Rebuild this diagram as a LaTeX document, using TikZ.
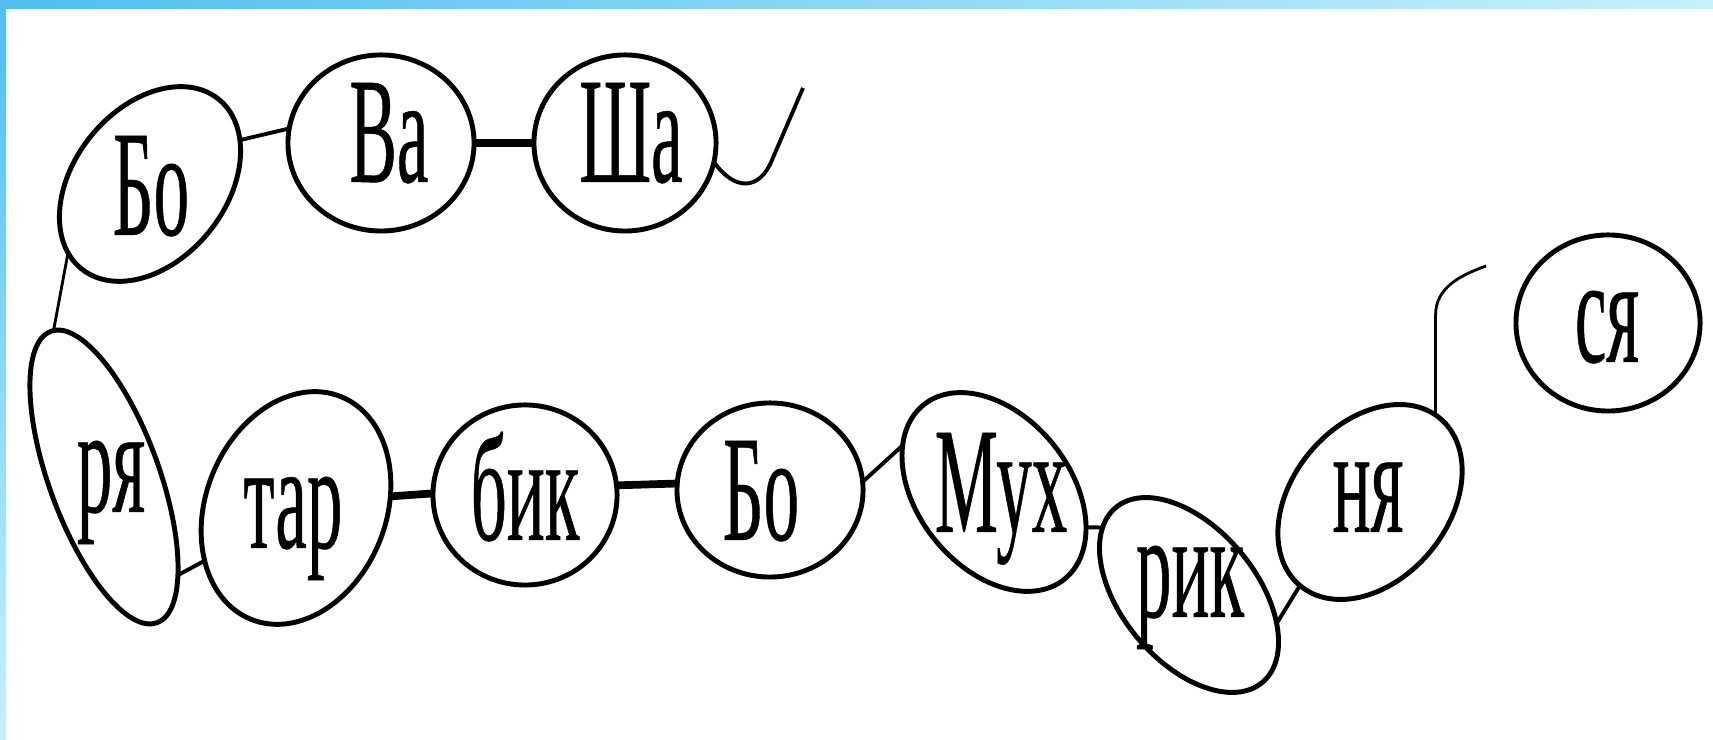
\documentclass[tikz,border=0pt]{standalone}
\usepackage{fontspec}
\setmainfont{Liberation Serif}[FakeStretch=0.47,FakeBold=0.3]
\usetikzlibrary{shapes.geometric}

\definecolor{frameblue}{RGB}{80,190,238}
\definecolor{framelight}{RGB}{200,240,252}

\begin{document}
\begin{tikzpicture}[x=0.01cm,y=0.01cm,
	oval/.style={draw,ellipse,line width=1.4pt,inner sep=0pt,outer sep=0pt},
	syl/.style={anchor=base,inner sep=0pt,font=\fontsize{43}{43}\selectfont},
	link/.style={line width=1.1pt},
	thinlink/.style={line width=0.8pt},
	thicklink/.style={line width=2.2pt}]

	\useasboundingbox (0,0) rectangle (1713,740);
	\fill [left color=frameblue,right color=framelight] (0,731) rectangle (1713,740);
	\fill [top color=frameblue,bottom color=framelight] (0,0) rectangle (6,740);

	\node [oval,minimum width=2.18cm,minimum height=1.52cm,rotate=51] (bo1) at (150,556) {};
	\node [oval,minimum width=1.86cm,minimum height=1.76cm] (va) at (381,597) {};
	\node [oval,minimum width=1.82cm,minimum height=1.76cm] (sha) at (625,597) {};
	\node [oval,minimum width=3.10cm,minimum height=1.10cm,rotate=-70] (rya) at (104,263) {};
	\node [oval,minimum width=2.40cm,minimum height=1.80cm,rotate=68] (tar) at (296,232) {};
	\node [oval,minimum width=1.84cm,minimum height=1.80cm] (bik) at (525,245) {};
	\node [oval,minimum width=1.86cm,minimum height=1.74cm] (bo2) at (770,250) {};
	\node [oval,minimum width=2.24cm,minimum height=1.52cm,rotate=-51] (muh) at (994,248) {};
	\node [oval,minimum width=2.28cm,minimum height=1.34cm,rotate=-50] (rik) at (1189,145) {};
	\node [oval,minimum width=2.18cm,minimum height=1.56cm,rotate=50] (nya) at (1370,238) {};
	\node [oval,minimum width=1.84cm,minimum height=1.76cm] (sya) at (1608,417) {};

	\node [syl] (bo1t) at (151,505) {Бо};
	\node [syl] (vat) at (389,558) {Ва};
	\node [syl] (shat) at (631,558) {Ша};
	\node [syl] (ryat) at (111,228) {ря};
	\node [syl] (tart) at (293,192) {тар};
	\node [syl] (bikt) at (525,200) {бик};
	\node [syl] (bo2t) at (761,200) {Бо};
	\node [syl] (muht) at (1001,208) {Мух};
	\node [syl] (rikt) at (1190,123) {рик};
	\node [syl] (nyat) at (1368,208) {ня};
	\node [syl] (syat) at (1607,378) {ся};

	\coordinate (hookend) at (803,652);
	\coordinate (syhook) at (1486,474);

	\draw [link] (bo1.-25) -- (va.171);
	\draw [thicklink] (va.east) -- (sha.west);
	\draw [link] (sha.-12) .. controls (735,548) and (760,550) .. (772,580) -- (hookend);
	\draw [thinlink] (bo1.169) -- (rya.179);
	\draw [link] (rya.17) -- (tar.142);
	\draw [thicklink] (tar.-61) -- (bik.179);
	\draw [thicklink] (bik.6) -- (bo2.176);
	\draw [link] (bo2.5) -- (muh.204);
	\draw [link] (muh.30) -- (rik.192);
	\draw [link] (rik.32) -- (nya.180);
	\draw [thinlink] (nya.3) -- ++(0,100) to[out=90,in=200] (syhook);

\end{tikzpicture}
\end{document}
